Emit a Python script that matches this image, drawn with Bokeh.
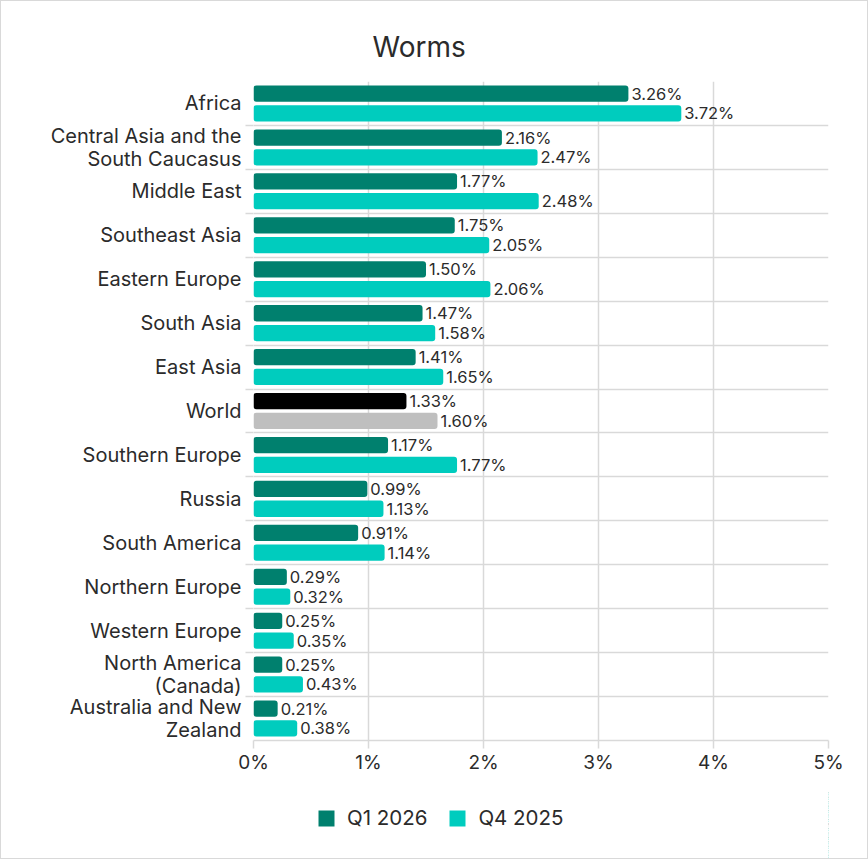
from bokeh.plotting import figure
from bokeh.layouts import column
from bokeh.models import (ColumnDataSource, Range1d, FixedTicker, Legend, LegendItem,
                          PrintfTickFormatter)
from bokeh.transform import dodge
from bokeh.core.properties import value
from bokeh.embed import file_html
from bokeh.resources import INLINE

# Regions, top to bottom as listed in the chart
regions = [
    "Africa",
    "Central Asia and the\nSouth Caucasus",
    "Middle East",
    "Southeast Asia",
    "Eastern Europe",
    "South Asia",
    "East Asia",
    "World",
    "Southern Europe",
    "Russia",
    "South America",
    "Northern Europe",
    "Western Europe",
    "North America\n(Canada)",
    "Australia and New\nZealand",
]
q1_2026 = [3.26, 2.16, 1.77, 1.75, 1.50, 1.47, 1.41, 1.33, 1.17, 0.99, 0.91, 0.29, 0.25, 0.25, 0.21]
q4_2025 = [3.72, 2.47, 2.48, 2.05, 2.06, 1.58, 1.65, 1.60, 1.77, 1.13, 1.14, 0.32, 0.35, 0.43, 0.38]
series_names = ["Q1 2026", "Q4 2025"]
x_ticks = [0, 1, 2, 3, 4, 5]

DARK = "#00806e"
LIGHT = "#00ccbe"
WORLD_DARK = "#000000"
WORLD_LIGHT = "#bfbfbf"
TEXT = "#2b2b2b"
GRID = "#d9d9d9"
FONT = "Inter"

n = len(regions)
# one unit-high slot per region, first region at the top
slot = [n - i - 0.5 for i in range(n)]
boundaries = list(range(1, n))

src = ColumnDataSource(dict(
    region=regions,
    slot=slot,
    q1=q1_2026,
    q4=q4_2025,
    q1_label=[f"{v:.2f}%" for v in q1_2026],
    q4_label=[f"{v:.2f}%" for v in q4_2025],
    q1_color=[WORLD_DARK if r == "World" else DARK for r in regions],
    q4_color=[WORLD_LIGHT if r == "World" else LIGHT for r in regions],
))

p = figure(
    width=866, height=790,
    y_range=Range1d(0, n),
    x_range=Range1d(0, 5),
    output_backend="svg", toolbar_location=None,
    min_border_left=252, min_border_right=39, min_border_top=80, min_border_bottom=51,
)
p.outline_line_color = None
p.background_fill_color = "white"
p.border_fill_color = "white"

# Title
p.title.text = "Worms"
p.title.text_font = FONT
p.title.text_font_size = "28px"
p.title.text_font_style = "normal"
p.title.text_color = TEXT
p.title.align = "left"
p.title.vertical_align = "top"
p.title.offset = 119
p.title.standoff = 32

# Y axis: region names at slot centres, small ticks at slot boundaries
y_ticker = FixedTicker(ticks=slot, minor_ticks=boundaries)
p.yaxis.ticker = y_ticker
p.yaxis.major_label_overrides = {s: r for s, r in zip(slot, regions)}
p.yaxis.axis_line_color = None
p.yaxis.major_tick_line_color = None
p.yaxis.minor_tick_line_color = GRID
p.yaxis.minor_tick_line_width = 1.5
p.yaxis.minor_tick_out = 8
p.yaxis.minor_tick_in = 0
p.yaxis.major_label_text_font = FONT
p.yaxis.major_label_text_font_size = "20px"
p.yaxis.major_label_text_line_height = 0.98
p.yaxis.major_label_text_color = TEXT
p.yaxis.major_label_standoff = 4
p.ygrid.ticker = y_ticker
p.ygrid.grid_line_color = None
p.ygrid.minor_grid_line_color = GRID
p.ygrid.minor_grid_line_width = 1.5

# X axis
p.xaxis.ticker = FixedTicker(ticks=x_ticks)
p.xaxis.formatter = PrintfTickFormatter(format="%d%%")
p.xaxis.axis_line_color = GRID
p.xaxis.axis_line_width = 1.5
p.xaxis.major_tick_line_color = GRID
p.xaxis.major_tick_line_width = 1.5
p.xaxis.major_tick_out = 8
p.xaxis.major_tick_in = 0
p.xaxis.minor_tick_line_color = None
p.xaxis.major_label_text_font = FONT
p.xaxis.major_label_text_font_size = "19px"
p.xaxis.major_label_text_color = TEXT
p.xaxis.major_label_standoff = 2
p.xgrid.ticker = FixedTicker(ticks=x_ticks)
p.xgrid.grid_line_color = GRID
p.xgrid.grid_line_width = 1.5

# Bars
BAR_H = 0.37
OFF = 0.225
bar_kw = dict(left=0, height=BAR_H, line_color=None, border_radius=3, source=src)
p.hbar(y=dodge("slot", OFF), right="q1", fill_color="q1_color", **bar_kw)
p.hbar(y=dodge("slot", -OFF), right="q4", fill_color="q4_color", **bar_kw)

# Value labels
for col, off in (("q1", OFF), ("q4", -OFF)):
    p.text(x=col, y=dodge("slot", off), text=f"{col}_label",
           x_offset=3, text_baseline="middle", text_align="left",
           text_font=value(FONT), text_font_size="16.5px", text_color=TEXT, source=src)

# Legend strip under the chart; its swatch renderers share the bar data but
# the strip's x range lies far left of zero, so only the legend itself shows
leg = figure(
    width=866, height=67, x_range=Range1d(-10, -9), y_range=Range1d(0, n),
    output_backend="svg", toolbar_location=None,
    min_border_left=0, min_border_right=0, min_border_top=0, min_border_bottom=0,
)
leg.axis.visible = False
leg.grid.visible = False
leg.outline_line_color = None
sw1 = leg.hbar(y=dodge("slot", OFF), right="q1", fill_color="q1_color", **bar_kw)
sw2 = leg.hbar(y=dodge("slot", -OFF), right="q4", fill_color="q4_color", **bar_kw)
legend = Legend(
    items=[LegendItem(label=series_names[0], renderers=[sw1], index=0),
           LegendItem(label=series_names[1], renderers=[sw2], index=0)],
    orientation="horizontal", location=(63, 28),
    glyph_width=20, glyph_height=20, label_standoff=11, spacing=20,
    label_text_font=FONT, label_text_font_size="20.5px", label_text_color=TEXT,
    border_line_color=None, background_fill_alpha=0, padding=0, margin=0,
)
leg.add_layout(legend, "center")

layout = column(p, leg, spacing=0)
layout.styles = {"border": "1px solid #d9d9d9"}

open("out.html", "w").write(file_html(layout, INLINE))
